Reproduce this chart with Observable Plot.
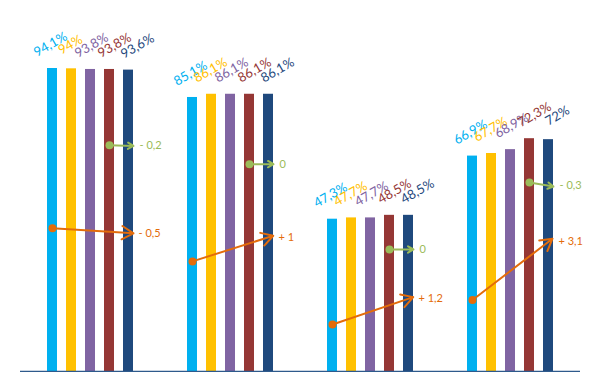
<!DOCTYPE html>
<html>
<head>
<meta charset="utf-8">
<script src="https://cdn.jsdelivr.net/npm/d3@7"></script>
<script src="https://cdn.jsdelivr.net/npm/@observablehq/plot@0.6"></script>
<style>
  html, body { margin: 0; padding: 0; background: #ffffff; }
  #chart svg { overflow: visible; display: block; }
</style>
</head>
<body>
<div id="chart"></div>
<script>
// ---- data ----
const groups = ["G1", "G2", "G3", "G4"];
const series = ["S1", "S2", "S3", "S4", "S5"];
const colors = ["#00B0F0", "#FFC000", "#8064A2", "#953735", "#1F497D"];
const values = [
  [94.1, 94, 93.8, 93.8, 93.6],
  [85.1, 86.1, 86.1, 86.1, 86.1],
  [47.3, 47.7, 47.7, 48.5, 48.5],
  [66.9, 67.7, 68.9, 72.3, 72]
];
const orangeStart = [44.5, 34.2, 14.6, 22.2];
const orangeEnd = [43.0, 41.7, 22.6, 40.3];
const orangeLabels = ["- 0,5", "+ 1", "+ 1,2", "+ 3,1"];
const greenStart = [70.3, 64.4, 37.9, 58.7];
const greenEnd = [70.1, 64.4, 37.9, 57.7];
const greenLabels = ["- 0,2", "0", "0", "- 0,3"];

// ---- tables ----
const fmt = v => String(v).replace(".", ",") + "%";
const rows = [];
groups.forEach((g, gi) => series.forEach((s, si) => rows.push({group: g, series: s, si, value: values[gi][si]})));
const orangeRows = groups.map((g, i) => ({group: g, from: series[0], to: series[4], y1: orangeStart[i], y2: orangeEnd[i], label: orangeLabels[i]}));
const greenRows = groups.map((g, i) => ({group: g, from: series[3], to: series[4], y1: greenStart[i], y2: greenEnd[i], label: greenLabels[i]}));

const ORANGE = "#E46C0A";
const GREEN = "#9BBB59";
const labelDx = [-2, -1, 1, 5, 9];
const FONT = "Lato, 'Open Sans', sans-serif";

const marks = [
  Plot.barY(rows, {fx: "group", x: "series", y: "value", fill: d => colors[d.si]}),
  Plot.ruleY([0], {stroke: "#2E5A8C", strokeWidth: 1.5}),
  ...series.map((s, i) => Plot.text(rows.filter(d => d.si === i), {
    fx: "group", x: "series", y: "value", text: d => fmt(d.value),
    fill: colors[i], rotate: -30, dx: labelDx[i], dy: -24,
    fontSize: 13, fontFamily: FONT
  })),
  // green arrows
  Plot.arrow(greenRows, {fx: "group", x1: "from", x2: "to", y1: "y1", y2: "y2", stroke: GREEN, strokeWidth: 2, headLength: 10, insetEnd: -5}),
  Plot.dot(greenRows, {fx: "group", x: "from", y: "y1", r: 4, fill: GREEN}),
  Plot.text(greenRows, {fx: "group", x: "to", y: "y2", text: "label", fill: GREEN, textAnchor: "start", dx: 11, fontSize: 11, fontFamily: FONT}),
  // orange arrows
  Plot.arrow(orangeRows, {fx: "group", x1: "from", x2: "to", y1: "y1", y2: "y2", stroke: ORANGE, strokeWidth: 2, headLength: 10, insetEnd: -5}),
  Plot.dot(orangeRows, {fx: "group", x: "from", y: "y1", r: 4, fill: ORANGE}),
  Plot.text(orangeRows, {fx: "group", x: "to", y: "y2", text: "label", fill: ORANGE, textAnchor: "start", dx: 10, fontSize: 11, fontFamily: FONT})
];

const chart = Plot.plot({
  width: 600,
  height: 372,
  marginLeft: 18,
  marginRight: 19,
  marginTop: 49,
  marginBottom: 1,
  style: {background: "#ffffff", overflow: "visible"},
  fx: {domain: groups, padding: 0, axis: null},
  x: {type: "band", domain: series, paddingInner: 0.5, paddingOuter: 1.27, axis: null},
  y: {domain: [0, 100], axis: null},
  marks
});
document.getElementById("chart").appendChild(chart);
</script>
</body>
</html>
